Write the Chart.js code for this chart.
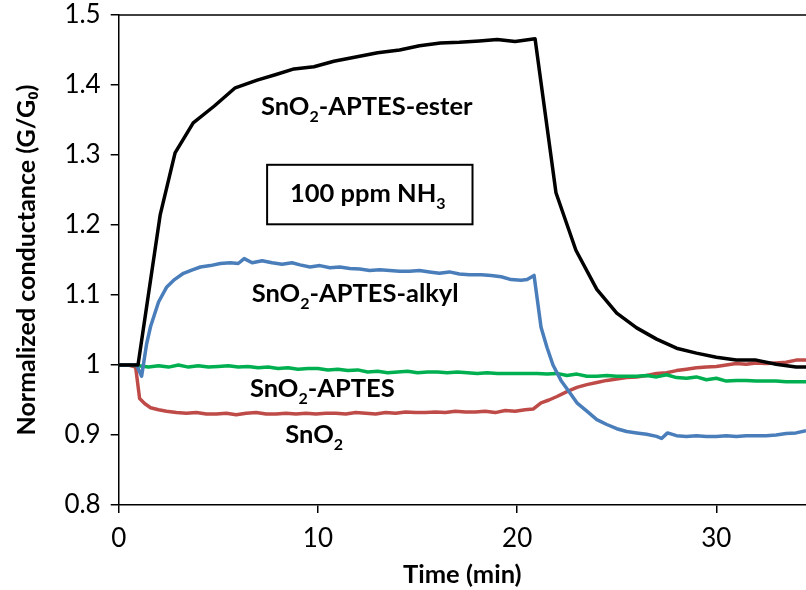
<!DOCTYPE html>
<html>
<head>
<meta charset="utf-8">
<script src="https://cdn.jsdelivr.net/npm/chart.js@4"></script>
<style>
  body { margin: 0; background: #fff; }
  #wrap { width: 806px; height: 590px; }
</style>
</head>
<body>
<div id="wrap"><canvas id="chart" width="806" height="590"></canvas></div>
<script>
// SnO2-APTES-ester (black), sampled about once a minute
const esterTime = [0, 0.97, 2.08, 2.83, 3.74, 4.8, 5.85, 6.95, 7.9, 8.8, 9.8, 10.8, 11.9, 13.0, 14.1, 15.1, 16.15, 17.1, 18.1, 19.0, 19.9, 20.9, 21.95, 22.95, 24.0, 25.0, 26.0, 27.0, 28.0, 29.0, 30.0, 31.0, 32.0, 33.0, 34.0, 34.5];
const esterValue = [1.0, 1.0, 1.214, 1.303, 1.346, 1.37, 1.396, 1.407, 1.415, 1.423, 1.426, 1.434, 1.44, 1.446, 1.45, 1.456, 1.46, 1.461, 1.463, 1.465, 1.462, 1.466, 1.246, 1.164, 1.108, 1.074, 1.053, 1.037, 1.024, 1.017, 1.011, 1.007, 1.007, 1.001, 0.997, 0.997];

// SnO2-APTES-alkyl (blue)
const alkylTime = [0, 0.5, 0.9, 1.15, 1.4, 1.6, 2.0, 2.4, 2.8, 3.25, 3.7, 4.1, 4.6, 5.1, 5.6, 6.0, 6.3, 6.7, 7.2, 7.7, 8.2, 8.7, 9.1, 9.6, 10.1, 10.6, 11.1, 11.6, 12.1, 12.6, 13.1, 13.6, 14.1, 14.6, 15.1, 15.6, 16.1, 16.6, 17.1, 17.6, 18.2, 18.7, 19.2, 19.7, 20.2, 20.5, 20.85, 21.2, 21.5, 21.8, 22.2, 22.6, 23.0, 23.5, 24.0, 24.5, 25.0, 25.5, 26.0, 26.5, 27.0, 27.25, 27.55, 28.0, 28.5, 29.0, 29.5, 30.0, 30.5, 31.0, 31.5, 32.0, 32.5, 33.0, 33.5, 34.0, 34.5];
const alkylValue = [1.0, 1.0, 1.0, 0.984, 1.03, 1.055, 1.09, 1.111, 1.122, 1.131, 1.136, 1.14, 1.142, 1.145, 1.146, 1.145, 1.152, 1.146, 1.149, 1.146, 1.144, 1.146, 1.143, 1.14, 1.142, 1.139, 1.14, 1.138, 1.137, 1.135, 1.136, 1.135, 1.134, 1.134, 1.135, 1.133, 1.131, 1.133, 1.13, 1.129, 1.129, 1.128, 1.126, 1.122, 1.121, 1.122, 1.128, 1.054, 1.025, 1.0, 0.978, 0.962, 0.946, 0.934, 0.922, 0.915, 0.909, 0.905, 0.903, 0.901, 0.898, 0.895, 0.903, 0.899, 0.898, 0.899, 0.898, 0.898, 0.899, 0.898, 0.899, 0.899, 0.899, 0.9, 0.902, 0.903, 0.906];

// SnO2-APTES (green)
const aptesTime = [0, 0.5, 1.0, 1.5, 2.0, 2.5, 3.0, 3.5, 4.0, 4.5, 5.0, 5.5, 6.0, 6.5, 7.0, 7.5, 8.0, 8.5, 9.0, 9.5, 10.0, 10.5, 11.0, 11.5, 12.0, 12.5, 13.0, 13.5, 14.0, 14.5, 15.0, 15.5, 16.0, 16.5, 17.0, 17.5, 18.0, 18.5, 19.0, 19.5, 20.0, 20.5, 21.0, 21.5, 22.0, 22.5, 23.0, 23.5, 24.0, 24.5, 25.0, 25.5, 26.0, 26.5, 27.0, 27.5, 28.0, 28.5, 29.0, 29.5, 30.0, 30.5, 31.0, 31.5, 32.0, 32.5, 33.0, 33.5, 34.0, 34.5];
const aptesValue = [1.0, 1.0, 0.999, 0.997, 0.999, 0.997, 1.0, 0.997, 0.999, 0.997, 0.998, 0.999, 0.997, 0.998, 0.996, 0.997, 0.995, 0.996, 0.994, 0.995, 0.995, 0.993, 0.994, 0.992, 0.993, 0.99, 0.991, 0.989, 0.99, 0.991, 0.989, 0.99, 0.99, 0.989, 0.99, 0.989, 0.988, 0.989, 0.988, 0.988, 0.988, 0.988, 0.988, 0.987, 0.988, 0.985, 0.987, 0.984, 0.984, 0.985, 0.984, 0.984, 0.984, 0.985, 0.983, 0.986, 0.982, 0.981, 0.983, 0.979, 0.981, 0.977, 0.978, 0.978, 0.977, 0.977, 0.977, 0.976, 0.976, 0.976];

// SnO2 (red)
const sno2Time = [0, 0.5, 0.85, 1.05, 1.3, 1.6, 2.0, 2.4, 2.9, 3.4, 3.9, 4.4, 4.9, 5.4, 5.9, 6.4, 6.9, 7.4, 7.9, 8.4, 8.9, 9.4, 9.9, 10.4, 10.9, 11.4, 11.9, 12.4, 12.9, 13.4, 13.9, 14.4, 14.9, 15.4, 15.9, 16.4, 16.9, 17.4, 17.9, 18.4, 18.9, 19.4, 19.9, 20.4, 20.8, 21.2, 21.6, 22.0, 22.5, 23.0, 23.5, 24.0, 24.5, 25.0, 25.5, 26.0, 26.5, 27.0, 27.5, 28.0, 28.5, 29.0, 29.5, 30.0, 30.5, 31.0, 31.5, 32.0, 32.5, 33.0, 33.5, 34.0, 34.5];
const sno2Value = [1.0, 1.0, 0.997, 0.952, 0.945, 0.939, 0.936, 0.934, 0.932, 0.931, 0.932, 0.93, 0.93, 0.931, 0.929, 0.931, 0.932, 0.93, 0.93, 0.931, 0.93, 0.931, 0.93, 0.931, 0.931, 0.93, 0.932, 0.931, 0.93, 0.932, 0.931, 0.933, 0.932, 0.932, 0.933, 0.932, 0.934, 0.933, 0.933, 0.934, 0.932, 0.935, 0.934, 0.936, 0.937, 0.946, 0.95, 0.955, 0.962, 0.968, 0.972, 0.975, 0.978, 0.98, 0.982, 0.983, 0.985, 0.988, 0.989, 0.992, 0.994, 0.996, 0.997, 0.998, 1.0, 1.002, 1.001, 1.003, 1.002, 1.003, 1.004, 1.007, 1.007];

const xTicks = [0, 10, 20, 30];
const yTicks = [0.8, 0.9, 1.0, 1.1, 1.2, 1.3, 1.4, 1.5];

// text labels on the plot: [text, subscript, rest], anchored at (time, value)
const curveLabels = [
  { parts: ["SnO", "2", "-APTES-ester"], x: 12.45, y: 1.357 },
  { parts: ["SnO", "2", "-APTES-alkyl"], x: 11.87, y: 1.09 },
  { parts: ["SnO", "2", "-APTES"], x: 10.22, y: 0.954 },
  { parts: ["SnO", "2", ""], x: 9.81, y: 0.889 },
  { parts: ["100 ppm NH", "3", ""], x: 12.5, y: 1.233, box: [7.45, 17.76, 1.286, 1.201] }
];

const toPoints = (xs, ys) => xs.map((x, i) => ({ x: x, y: ys[i] }));

const FONT = "Lato, 'Open Sans', sans-serif";

function drawParts(ctx, parts, cx, baseline, size) {
  const big = "bold " + size + "px " + FONT;
  const small = "bold " + Math.round(size * 0.62) + "px " + FONT;
  ctx.font = big;
  const w1 = ctx.measureText(parts[0]).width;
  const w3 = ctx.measureText(parts[2]).width;
  ctx.font = small;
  const w2 = ctx.measureText(parts[1]).width;
  let x = cx - (w1 + w2 + w3) / 2;
  ctx.textAlign = "left";
  ctx.textBaseline = "alphabetic";
  ctx.font = big;
  ctx.fillText(parts[0], x, baseline);
  x += w1;
  ctx.font = small;
  ctx.fillText(parts[1], x, baseline + size * 0.28);
  x += w2;
  ctx.font = big;
  ctx.fillText(parts[2], x, baseline);
}

const labelPlugin = {
  id: "curveLabels",
  afterDraw(chart) {
    const ctx = chart.ctx;
    const xs = chart.scales.x, ys = chart.scales.y;
    const area = chart.chartArea;
    ctx.save();
    // top edge of plot area
    ctx.strokeStyle = "#000";
    ctx.lineWidth = 1.5;
    ctx.beginPath();
    ctx.moveTo(area.left, area.top);
    ctx.lineTo(area.right, area.top);
    ctx.stroke();
    ctx.fillStyle = "#000";
    curveLabels.forEach(l => {
      if (l.box) {
        const x1 = xs.getPixelForValue(l.box[0]), x2 = xs.getPixelForValue(l.box[1]);
        const y1 = ys.getPixelForValue(l.box[2]), y2 = ys.getPixelForValue(l.box[3]);
        ctx.lineWidth = 2;
        ctx.strokeRect(x1, y1, x2 - x1, y2 - y1);
      }
      drawParts(ctx, l.parts, xs.getPixelForValue(l.x), ys.getPixelForValue(l.y), 25.5);
    });
    ctx.restore();
  }
};

new Chart(document.getElementById("chart"), {
  type: "line",
  data: {
    datasets: [
      { label: "SnO2-APTES-ester", data: toPoints(esterTime, esterValue), borderColor: "#000000", order: 0 },
      { label: "SnO2-APTES-alkyl", data: toPoints(alkylTime, alkylValue), borderColor: "#4a7ebb", order: 1 },
      { label: "SnO2-APTES", data: toPoints(aptesTime, aptesValue), borderColor: "#00b050", order: 2 },
      { label: "SnO2", data: toPoints(sno2Time, sno2Value), borderColor: "#be4b48", order: 3 }
    ]
  },
  options: {
    responsive: false,
    animation: false,
    devicePixelRatio: 1,
    layout: { padding: { top: 15, right: 0, bottom: 0, left: 0 } },
    elements: {
      point: { radius: 0 },
      line: { borderWidth: 3.5, tension: 0, fill: false, borderJoinStyle: "round" }
    },
    plugins: { legend: { display: false }, tooltip: { enabled: false } },
    scales: {
      x: {
        type: "linear",
        min: 0,
        max: 34.5,
        afterBuildTicks: s => { s.ticks = xTicks.map(v => ({ value: v })); },
        afterFit: s => { s.height = 85; s.paddingLeft = 0; s.paddingRight = 0; },
        grid: { drawOnChartArea: false, tickLength: 8, color: "#000", lineWidth: 1.5 },
        border: { display: true, color: "#000", width: 1.5 },
        ticks: { color: "#000", padding: 10, font: { family: FONT, size: 26 } },
        title: {
          display: true, text: "Time (min)", color: "#000",
          font: { family: FONT, size: 25.5, weight: "bold" }, padding: { top: 2, bottom: 0 }
        }
      },
      y: {
        min: 0.8,
        max: 1.5,
        afterBuildTicks: s => { s.ticks = yTicks.map(v => ({ value: v })); },
        afterFit: s => { s.width = 118.7; s.paddingTop = 0; s.paddingBottom = 0; },
        grid: { drawOnChartArea: false, tickLength: 8, color: "#000", lineWidth: 1.5 },
        border: { display: true, color: "#000", width: 1.5 },
        ticks: {
          color: "#000", padding: 10, font: { family: FONT, size: 26 },
          callback: v => Number(v.toFixed(1)).toString()
        },
        title: {
          display: true, text: "Normalized conductance (G/G\u2080)", color: "#000",
          font: { family: FONT, size: 25, weight: "bold" }, padding: { top: 12, bottom: 0 }
        }
      }
    }
  },
  plugins: [labelPlugin]
});
</script>
</body>
</html>
